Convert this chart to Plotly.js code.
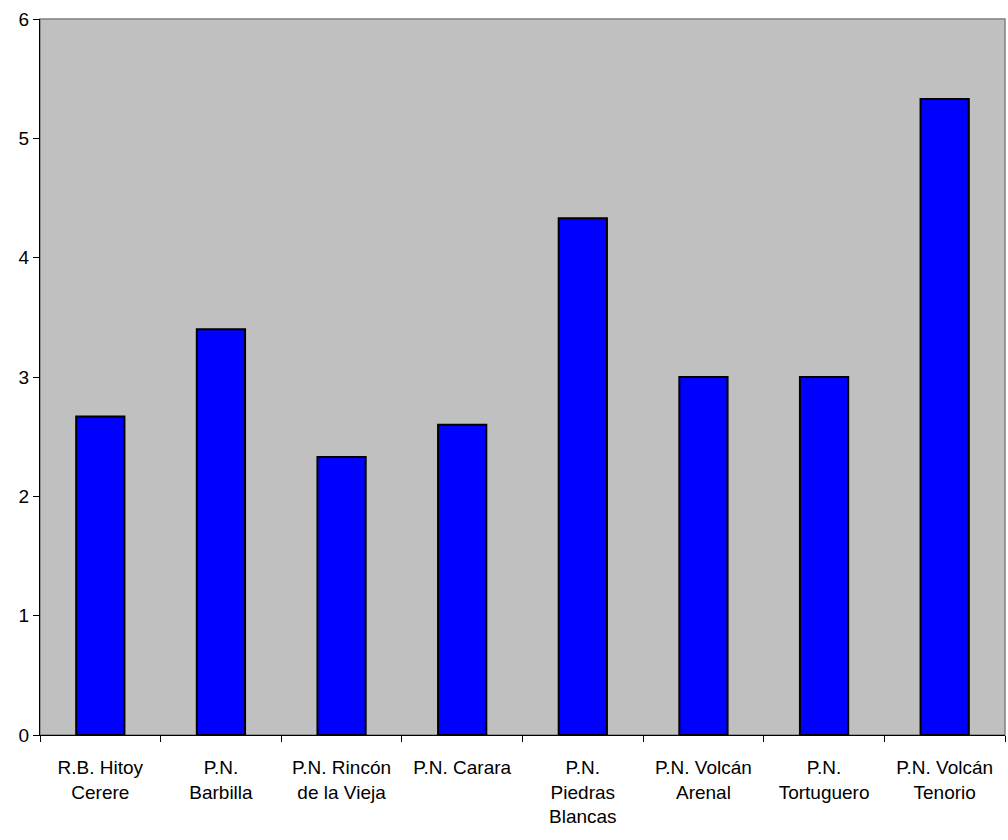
<!DOCTYPE html>
<html><head><meta charset="utf-8">
<script src="https://cdn.plot.ly/plotly-3.0.1.min.js"></script>
<style>html,body{margin:0;padding:0;background:#fff;}#chart{width:1008px;height:840px;}</style>
</head><body><div id="chart"></div>
<script>
const categories = ["R.B. Hitoy<br>Cerere","P.N.<br>Barbilla","P.N. Rincón<br>de la Vieja","P.N. Carara","P.N.<br>Piedras<br>Blancas","P.N. Volcán<br>Arenal","P.N.<br>Tortuguero","P.N. Volcán<br>Tenorio"];
const values = [2.67, 3.4, 2.33, 2.6, 4.33, 3.0, 3.0, 5.33];
const yTicks = [0,1,2,3,4,5,6];

Plotly.newPlot('chart', [{
  type: 'bar', x: categories, y: values,
  marker: {color: '#0000FF', line: {color: '#000000', width: 2}},
  hoverinfo: 'skip'
}], {
  width: 1008, height: 840,
  margin: {l: 40, r: 3, t: 19, b: 105},
  paper_bgcolor: '#FFFFFF', plot_bgcolor: '#C0C0C0',
  bargap: 0.6, showlegend: false,
  font: {family: 'Liberation Sans, Arial, sans-serif', color: '#000', size: 19},
  xaxis: {type: 'category', showgrid: false, zeroline: false, showline: true, linecolor: '#000', linewidth: 1,
          ticks: 'outside', tickson: 'boundaries', ticklen: 6, tickcolor: '#000', tickfont: {size: 19},
          ticklabelstandoff: 15},
  yaxis: {range: [0, 6], tickvals: yTicks, showgrid: false, zeroline: false, showline: true, linecolor: '#000', linewidth: 1,
          ticks: 'outside', ticklen: 6, tickcolor: '#000', tickfont: {size: 19}},
  shapes: [{type: 'rect', xref: 'x domain', yref: 'y domain', x0: 0, x1: 1, y0: 0, y1: 1,
            line: {color: '#808080', width: 1.5}, layer: 'below'}]
}, {staticPlot: true});
</script></body></html>
